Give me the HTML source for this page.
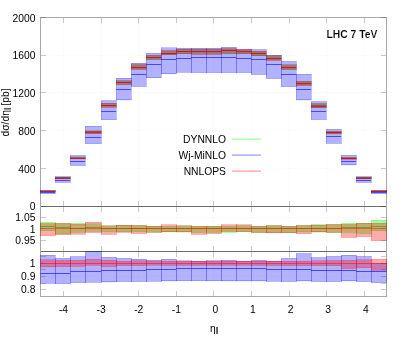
<!DOCTYPE html>
<html><head><meta charset="utf-8"><title>plot</title>
<style>
html,body{margin:0;padding:0;background:#fff;}
svg{display:block;font-family:"Liberation Sans",sans-serif;fill:#000;will-change:transform;}
</style></head><body>
<svg width="407" height="344" viewBox="0 0 407 344">
<rect x="0" y="0" width="407" height="344" fill="#fff"/>
<line x1="63.5" y1="17.3" x2="63.5" y2="296.45" stroke="#fbfbfb" stroke-width="1"/>
<line x1="101.5" y1="17.3" x2="101.5" y2="296.45" stroke="#fbfbfb" stroke-width="1"/>
<line x1="138.5" y1="17.3" x2="138.5" y2="296.45" stroke="#fbfbfb" stroke-width="1"/>
<line x1="176.5" y1="17.3" x2="176.5" y2="296.45" stroke="#fbfbfb" stroke-width="1"/>
<line x1="213.5" y1="17.3" x2="213.5" y2="296.45" stroke="#fbfbfb" stroke-width="1"/>
<line x1="251.5" y1="17.3" x2="251.5" y2="296.45" stroke="#fbfbfb" stroke-width="1"/>
<line x1="289.5" y1="17.3" x2="289.5" y2="296.45" stroke="#fbfbfb" stroke-width="1"/>
<line x1="326.5" y1="17.3" x2="326.5" y2="296.45" stroke="#fbfbfb" stroke-width="1"/>
<line x1="364.5" y1="17.3" x2="364.5" y2="296.45" stroke="#fbfbfb" stroke-width="1"/>
<line x1="40.45" y1="168.5" x2="386.55" y2="168.5" stroke="#fbfbfb" stroke-width="1"/>
<line x1="40.45" y1="130.5" x2="386.55" y2="130.5" stroke="#fbfbfb" stroke-width="1"/>
<line x1="40.45" y1="92.5" x2="386.55" y2="92.5" stroke="#fbfbfb" stroke-width="1"/>
<line x1="40.45" y1="55.5" x2="386.55" y2="55.5" stroke="#fbfbfb" stroke-width="1"/>
<line x1="40.45" y1="217.5" x2="386.55" y2="217.5" stroke="#fbfbfb" stroke-width="1"/>
<line x1="40.45" y1="228.5" x2="386.55" y2="228.5" stroke="#fbfbfb" stroke-width="1"/>
<line x1="40.45" y1="240.5" x2="386.55" y2="240.5" stroke="#fbfbfb" stroke-width="1"/>
<line x1="40.45" y1="263.5" x2="386.55" y2="263.5" stroke="#fbfbfb" stroke-width="1"/>
<line x1="40.45" y1="276.5" x2="386.55" y2="276.5" stroke="#fbfbfb" stroke-width="1"/>
<line x1="40.45" y1="289.5" x2="386.55" y2="289.5" stroke="#fbfbfb" stroke-width="1"/>
<path d="M41.0 206.5h5M386.0 206.5h-5" stroke="#000" stroke-opacity="0.2" stroke-width="1" fill="none"/>
<path d="M41.0 168.5h5M386.0 168.5h-5" stroke="#000" stroke-opacity="0.2" stroke-width="1" fill="none"/>
<path d="M41.0 130.5h5M386.0 130.5h-5" stroke="#000" stroke-opacity="0.2" stroke-width="1" fill="none"/>
<path d="M41.0 92.5h5M386.0 92.5h-5" stroke="#000" stroke-opacity="0.2" stroke-width="1" fill="none"/>
<path d="M41.0 55.5h5M386.0 55.5h-5" stroke="#000" stroke-opacity="0.2" stroke-width="1" fill="none"/>
<path d="M41.0 17.5h5M386.0 17.5h-5" stroke="#000" stroke-opacity="0.2" stroke-width="1" fill="none"/>
<path d="M41.0 217.5h5M386.0 217.5h-5" stroke="#000" stroke-opacity="0.2" stroke-width="1" fill="none"/>
<path d="M41.0 228.5h5M386.0 228.5h-5" stroke="#000" stroke-opacity="0.2" stroke-width="1" fill="none"/>
<path d="M41.0 240.5h5M386.0 240.5h-5" stroke="#000" stroke-opacity="0.2" stroke-width="1" fill="none"/>
<path d="M41.0 256.5h5M386.0 256.5h-5" stroke="#000" stroke-opacity="0.2" stroke-width="1" fill="none"/>
<path d="M41.0 263.5h5M386.0 263.5h-5" stroke="#000" stroke-opacity="0.2" stroke-width="1" fill="none"/>
<path d="M41.0 269.5h5M386.0 269.5h-5" stroke="#000" stroke-opacity="0.2" stroke-width="1" fill="none"/>
<path d="M41.0 276.5h5M386.0 276.5h-5" stroke="#000" stroke-opacity="0.2" stroke-width="1" fill="none"/>
<path d="M41.0 283.5h5M386.0 283.5h-5" stroke="#000" stroke-opacity="0.2" stroke-width="1" fill="none"/>
<path d="M41.0 289.5h5M386.0 289.5h-5" stroke="#000" stroke-opacity="0.2" stroke-width="1" fill="none"/>
<path d="M63.5 18.0v5M63.5 206.0v-5" stroke="#000" stroke-opacity="0.2" stroke-width="1" fill="none"/>
<path d="M63.5 207.0v5M63.5 251.0v-5" stroke="#000" stroke-opacity="0.2" stroke-width="1" fill="none"/>
<path d="M63.5 252.0v5M63.5 296.0v-5" stroke="#000" stroke-opacity="0.2" stroke-width="1" fill="none"/>
<path d="M101.5 18.0v5M101.5 206.0v-5" stroke="#000" stroke-opacity="0.2" stroke-width="1" fill="none"/>
<path d="M101.5 207.0v5M101.5 251.0v-5" stroke="#000" stroke-opacity="0.2" stroke-width="1" fill="none"/>
<path d="M101.5 252.0v5M101.5 296.0v-5" stroke="#000" stroke-opacity="0.2" stroke-width="1" fill="none"/>
<path d="M138.5 18.0v5M138.5 206.0v-5" stroke="#000" stroke-opacity="0.2" stroke-width="1" fill="none"/>
<path d="M138.5 207.0v5M138.5 251.0v-5" stroke="#000" stroke-opacity="0.2" stroke-width="1" fill="none"/>
<path d="M138.5 252.0v5M138.5 296.0v-5" stroke="#000" stroke-opacity="0.2" stroke-width="1" fill="none"/>
<path d="M176.5 18.0v5M176.5 206.0v-5" stroke="#000" stroke-opacity="0.2" stroke-width="1" fill="none"/>
<path d="M176.5 207.0v5M176.5 251.0v-5" stroke="#000" stroke-opacity="0.2" stroke-width="1" fill="none"/>
<path d="M176.5 252.0v5M176.5 296.0v-5" stroke="#000" stroke-opacity="0.2" stroke-width="1" fill="none"/>
<path d="M213.5 18.0v5M213.5 206.0v-5" stroke="#000" stroke-opacity="0.2" stroke-width="1" fill="none"/>
<path d="M213.5 207.0v5M213.5 251.0v-5" stroke="#000" stroke-opacity="0.2" stroke-width="1" fill="none"/>
<path d="M213.5 252.0v5M213.5 296.0v-5" stroke="#000" stroke-opacity="0.2" stroke-width="1" fill="none"/>
<path d="M251.5 18.0v5M251.5 206.0v-5" stroke="#000" stroke-opacity="0.2" stroke-width="1" fill="none"/>
<path d="M251.5 207.0v5M251.5 251.0v-5" stroke="#000" stroke-opacity="0.2" stroke-width="1" fill="none"/>
<path d="M251.5 252.0v5M251.5 296.0v-5" stroke="#000" stroke-opacity="0.2" stroke-width="1" fill="none"/>
<path d="M289.5 18.0v5M289.5 206.0v-5" stroke="#000" stroke-opacity="0.2" stroke-width="1" fill="none"/>
<path d="M289.5 207.0v5M289.5 251.0v-5" stroke="#000" stroke-opacity="0.2" stroke-width="1" fill="none"/>
<path d="M289.5 252.0v5M289.5 296.0v-5" stroke="#000" stroke-opacity="0.2" stroke-width="1" fill="none"/>
<path d="M326.5 18.0v5M326.5 206.0v-5" stroke="#000" stroke-opacity="0.2" stroke-width="1" fill="none"/>
<path d="M326.5 207.0v5M326.5 251.0v-5" stroke="#000" stroke-opacity="0.2" stroke-width="1" fill="none"/>
<path d="M326.5 252.0v5M326.5 296.0v-5" stroke="#000" stroke-opacity="0.2" stroke-width="1" fill="none"/>
<path d="M364.5 18.0v5M364.5 206.0v-5" stroke="#000" stroke-opacity="0.2" stroke-width="1" fill="none"/>
<path d="M364.5 207.0v5M364.5 251.0v-5" stroke="#000" stroke-opacity="0.2" stroke-width="1" fill="none"/>
<path d="M364.5 252.0v5M364.5 296.0v-5" stroke="#000" stroke-opacity="0.2" stroke-width="1" fill="none"/>
<rect x="40.50" y="190.76" width="14.65" height="0.87" fill="#00ff00" fill-opacity="0.36"/>
<path d="M40.50 190.50H55.50M40.50 191.50H55.50M40.50 190.00V192.00M55.50 190.00V192.00" fill="none" stroke="#00ff00" stroke-opacity="0.2" stroke-width="1"/>
<line x1="40.50" y1="191.50" x2="55.15" y2="191.50" stroke="#00c000" stroke-width="1" stroke-opacity="0.6"/>
<rect x="55.15" y="177.10" width="15.00" height="1.81" fill="#00ff00" fill-opacity="0.36"/>
<path d="M55.50 177.50H70.50M55.50 178.50H70.50M55.50 177.00V179.00M70.50 177.00V179.00" fill="none" stroke="#00ff00" stroke-opacity="0.2" stroke-width="1"/>
<line x1="55.15" y1="177.50" x2="70.15" y2="177.50" stroke="#00c000" stroke-width="1" stroke-opacity="0.6"/>
<rect x="70.15" y="156.84" width="15.00" height="1.84" fill="#00ff00" fill-opacity="0.36"/>
<path d="M70.50 156.50H85.50M70.50 158.50H85.50M70.50 156.00V159.00M85.50 156.00V159.00" fill="none" stroke="#00ff00" stroke-opacity="0.2" stroke-width="1"/>
<line x1="70.15" y1="158.50" x2="85.15" y2="158.50" stroke="#00c000" stroke-width="1" stroke-opacity="0.6"/>
<rect x="85.15" y="131.36" width="16.00" height="2.15" fill="#00ff00" fill-opacity="0.36"/>
<path d="M85.50 131.50H101.50M85.50 133.50H101.50M85.50 131.00V134.00M101.50 131.00V134.00" fill="none" stroke="#00ff00" stroke-opacity="0.2" stroke-width="1"/>
<line x1="85.15" y1="131.50" x2="101.15" y2="131.50" stroke="#00c000" stroke-width="1" stroke-opacity="0.6"/>
<rect x="101.15" y="103.10" width="15.00" height="3.54" fill="#00ff00" fill-opacity="0.36"/>
<path d="M101.50 103.50H116.50M101.50 106.50H116.50M101.50 103.00V107.00M116.50 103.00V107.00" fill="none" stroke="#00ff00" stroke-opacity="0.2" stroke-width="1"/>
<line x1="101.15" y1="105.50" x2="116.15" y2="105.50" stroke="#00c000" stroke-width="1" stroke-opacity="0.6"/>
<rect x="116.15" y="80.70" width="15.00" height="3.89" fill="#00ff00" fill-opacity="0.36"/>
<path d="M116.50 80.50H131.50M116.50 84.50H131.50M116.50 80.00V85.00M131.50 80.00V85.00" fill="none" stroke="#00ff00" stroke-opacity="0.2" stroke-width="1"/>
<line x1="116.15" y1="82.50" x2="131.15" y2="82.50" stroke="#00c000" stroke-width="1" stroke-opacity="0.6"/>
<rect x="131.15" y="64.70" width="15.00" height="4.15" fill="#00ff00" fill-opacity="0.36"/>
<path d="M131.50 64.50H146.50M131.50 68.50H146.50M131.50 64.00V69.00M146.50 64.00V69.00" fill="none" stroke="#00ff00" stroke-opacity="0.2" stroke-width="1"/>
<line x1="131.15" y1="67.50" x2="146.15" y2="67.50" stroke="#00c000" stroke-width="1" stroke-opacity="0.6"/>
<rect x="146.15" y="55.20" width="15.00" height="4.40" fill="#00ff00" fill-opacity="0.36"/>
<path d="M146.50 55.50H161.50M146.50 59.50H161.50M146.50 55.00V60.00M161.50 55.00V60.00" fill="none" stroke="#00ff00" stroke-opacity="0.2" stroke-width="1"/>
<line x1="146.15" y1="57.50" x2="161.15" y2="57.50" stroke="#00c000" stroke-width="1" stroke-opacity="0.6"/>
<rect x="161.15" y="51.05" width="15.00" height="3.95" fill="#00ff00" fill-opacity="0.36"/>
<path d="M161.50 51.50H176.50M161.50 54.50H176.50M161.50 51.00V55.00M176.50 51.00V55.00" fill="none" stroke="#00ff00" stroke-opacity="0.2" stroke-width="1"/>
<line x1="161.15" y1="53.50" x2="176.15" y2="53.50" stroke="#00c000" stroke-width="1" stroke-opacity="0.6"/>
<rect x="176.15" y="49.10" width="15.00" height="4.90" fill="#00ff00" fill-opacity="0.36"/>
<path d="M176.50 49.50H191.50M176.50 53.50H191.50M176.50 49.00V54.00M191.50 49.00V54.00" fill="none" stroke="#00ff00" stroke-opacity="0.2" stroke-width="1"/>
<line x1="176.15" y1="51.50" x2="191.15" y2="51.50" stroke="#00c000" stroke-width="1" stroke-opacity="0.6"/>
<rect x="191.15" y="49.20" width="15.00" height="4.19" fill="#00ff00" fill-opacity="0.36"/>
<path d="M191.50 49.50H206.50M191.50 53.50H206.50M191.50 49.00V54.00M206.50 49.00V54.00" fill="none" stroke="#00ff00" stroke-opacity="0.2" stroke-width="1"/>
<line x1="191.15" y1="51.50" x2="206.15" y2="51.50" stroke="#00c000" stroke-width="1" stroke-opacity="0.6"/>
<rect x="206.15" y="49.20" width="15.00" height="4.61" fill="#00ff00" fill-opacity="0.36"/>
<path d="M206.50 49.50H221.50M206.50 53.50H221.50M206.50 49.00V54.00M221.50 49.00V54.00" fill="none" stroke="#00ff00" stroke-opacity="0.2" stroke-width="1"/>
<line x1="206.15" y1="51.50" x2="221.15" y2="51.50" stroke="#00c000" stroke-width="1" stroke-opacity="0.6"/>
<rect x="221.15" y="49.27" width="15.00" height="4.82" fill="#00ff00" fill-opacity="0.36"/>
<path d="M221.50 49.50H236.50M221.50 53.50H236.50M221.50 49.00V54.00M236.50 49.00V54.00" fill="none" stroke="#00ff00" stroke-opacity="0.2" stroke-width="1"/>
<line x1="221.15" y1="50.50" x2="236.15" y2="50.50" stroke="#00c000" stroke-width="1" stroke-opacity="0.6"/>
<rect x="236.15" y="50.19" width="15.00" height="3.81" fill="#00ff00" fill-opacity="0.36"/>
<path d="M236.50 50.50H251.50M236.50 53.50H251.50M236.50 50.00V54.00M251.50 50.00V54.00" fill="none" stroke="#00ff00" stroke-opacity="0.2" stroke-width="1"/>
<line x1="236.15" y1="51.50" x2="251.15" y2="51.50" stroke="#00c000" stroke-width="1" stroke-opacity="0.6"/>
<rect x="251.15" y="51.00" width="15.00" height="5.00" fill="#00ff00" fill-opacity="0.36"/>
<path d="M251.50 51.50H266.50M251.50 55.50H266.50M251.50 51.00V56.00M266.50 51.00V56.00" fill="none" stroke="#00ff00" stroke-opacity="0.2" stroke-width="1"/>
<line x1="251.15" y1="53.50" x2="266.15" y2="53.50" stroke="#00c000" stroke-width="1" stroke-opacity="0.6"/>
<rect x="266.15" y="55.60" width="15.00" height="4.64" fill="#00ff00" fill-opacity="0.36"/>
<path d="M266.50 55.50H281.50M266.50 59.50H281.50M266.50 55.00V60.00M281.50 55.00V60.00" fill="none" stroke="#00ff00" stroke-opacity="0.2" stroke-width="1"/>
<line x1="266.15" y1="58.50" x2="281.15" y2="58.50" stroke="#00c000" stroke-width="1" stroke-opacity="0.6"/>
<rect x="281.15" y="64.90" width="15.00" height="4.70" fill="#00ff00" fill-opacity="0.36"/>
<path d="M281.50 64.50H296.50M281.50 69.50H296.50M281.50 64.00V70.00M296.50 64.00V70.00" fill="none" stroke="#00ff00" stroke-opacity="0.2" stroke-width="1"/>
<line x1="281.15" y1="67.50" x2="296.15" y2="67.50" stroke="#00c000" stroke-width="1" stroke-opacity="0.6"/>
<rect x="296.15" y="81.10" width="15.00" height="4.08" fill="#00ff00" fill-opacity="0.36"/>
<path d="M296.50 81.50H311.50M296.50 84.50H311.50M296.50 81.00V85.00M311.50 81.00V85.00" fill="none" stroke="#00ff00" stroke-opacity="0.2" stroke-width="1"/>
<line x1="296.15" y1="83.50" x2="311.15" y2="83.50" stroke="#00c000" stroke-width="1" stroke-opacity="0.6"/>
<rect x="311.15" y="103.49" width="15.00" height="4.51" fill="#00ff00" fill-opacity="0.36"/>
<path d="M311.50 103.50H326.50M311.50 107.50H326.50M311.50 103.00V108.00M326.50 103.00V108.00" fill="none" stroke="#00ff00" stroke-opacity="0.2" stroke-width="1"/>
<line x1="311.15" y1="105.50" x2="326.15" y2="105.50" stroke="#00c000" stroke-width="1" stroke-opacity="0.6"/>
<rect x="326.15" y="131.10" width="15.00" height="3.00" fill="#00ff00" fill-opacity="0.36"/>
<path d="M326.50 131.50H341.50M326.50 133.50H341.50M326.50 131.00V134.00M341.50 131.00V134.00" fill="none" stroke="#00ff00" stroke-opacity="0.2" stroke-width="1"/>
<line x1="326.15" y1="132.50" x2="341.15" y2="132.50" stroke="#00c000" stroke-width="1" stroke-opacity="0.6"/>
<rect x="341.15" y="157.04" width="15.00" height="1.41" fill="#00ff00" fill-opacity="0.36"/>
<path d="M341.50 157.50H356.50M341.50 158.50H356.50M341.50 157.00V159.00M356.50 157.00V159.00" fill="none" stroke="#00ff00" stroke-opacity="0.2" stroke-width="1"/>
<line x1="341.15" y1="158.50" x2="356.15" y2="158.50" stroke="#00c000" stroke-width="1" stroke-opacity="0.6"/>
<rect x="356.15" y="177.10" width="15.00" height="1.54" fill="#00ff00" fill-opacity="0.36"/>
<path d="M356.50 177.50H371.50M356.50 178.50H371.50M356.50 177.00V179.00M371.50 177.00V179.00" fill="none" stroke="#00ff00" stroke-opacity="0.2" stroke-width="1"/>
<line x1="356.15" y1="177.50" x2="371.15" y2="177.50" stroke="#00c000" stroke-width="1" stroke-opacity="0.6"/>
<rect x="371.15" y="190.59" width="15.35" height="0.78" fill="#00ff00" fill-opacity="0.36"/>
<path d="M371.50 190.50H386.50M371.50 191.50H386.50M371.50 190.00V192.00M386.50 190.00V192.00" fill="none" stroke="#00ff00" stroke-opacity="0.2" stroke-width="1"/>
<line x1="371.15" y1="191.50" x2="386.50" y2="191.50" stroke="#00c000" stroke-width="1" stroke-opacity="0.6"/>
<rect x="40.50" y="190.10" width="14.65" height="3.60" fill="#0000ff" fill-opacity="0.3"/>
<path d="M40.50 190.50H55.50M40.50 193.50H55.50M40.50 190.00V194.00M55.50 190.00V194.00" fill="none" stroke="#0000ff" stroke-opacity="0.2" stroke-width="1"/>
<line x1="40.50" y1="192.50" x2="55.15" y2="192.50" stroke="#0000ff" stroke-width="1" stroke-opacity="0.6"/>
<rect x="55.15" y="176.50" width="15.00" height="5.90" fill="#0000ff" fill-opacity="0.3"/>
<path d="M55.50 176.50H70.50M55.50 182.50H70.50M55.50 176.00V183.00M70.50 176.00V183.00" fill="none" stroke="#0000ff" stroke-opacity="0.2" stroke-width="1"/>
<line x1="55.15" y1="180.50" x2="70.15" y2="180.50" stroke="#0000ff" stroke-width="1" stroke-opacity="0.6"/>
<rect x="70.15" y="155.50" width="15.00" height="10.00" fill="#0000ff" fill-opacity="0.3"/>
<path d="M70.50 155.50H85.50M70.50 165.50H85.50M70.50 155.00V166.00M85.50 155.00V166.00" fill="none" stroke="#0000ff" stroke-opacity="0.2" stroke-width="1"/>
<line x1="70.15" y1="161.50" x2="85.15" y2="161.50" stroke="#0000ff" stroke-width="1" stroke-opacity="0.6"/>
<rect x="85.15" y="126.10" width="16.00" height="17.60" fill="#0000ff" fill-opacity="0.3"/>
<path d="M85.50 126.50H101.50M85.50 143.50H101.50M85.50 126.00V144.00M101.50 126.00V144.00" fill="none" stroke="#0000ff" stroke-opacity="0.2" stroke-width="1"/>
<line x1="85.15" y1="137.50" x2="101.15" y2="137.50" stroke="#0000ff" stroke-width="1" stroke-opacity="0.6"/>
<rect x="101.15" y="100.60" width="15.00" height="19.20" fill="#0000ff" fill-opacity="0.3"/>
<path d="M101.50 100.50H116.50M101.50 119.50H116.50M101.50 100.00V120.00M116.50 100.00V120.00" fill="none" stroke="#0000ff" stroke-opacity="0.2" stroke-width="1"/>
<line x1="101.15" y1="111.50" x2="116.15" y2="111.50" stroke="#0000ff" stroke-width="1" stroke-opacity="0.6"/>
<rect x="116.15" y="78.00" width="15.00" height="22.20" fill="#0000ff" fill-opacity="0.3"/>
<path d="M116.50 78.50H131.50M116.50 99.50H131.50M116.50 78.00V100.00M131.50 78.00V100.00" fill="none" stroke="#0000ff" stroke-opacity="0.2" stroke-width="1"/>
<line x1="116.15" y1="89.50" x2="131.15" y2="89.50" stroke="#0000ff" stroke-width="1" stroke-opacity="0.6"/>
<rect x="131.15" y="63.00" width="15.00" height="23.50" fill="#0000ff" fill-opacity="0.3"/>
<path d="M131.50 63.50H146.50M131.50 86.50H146.50M131.50 63.00V87.00M146.50 63.00V87.00" fill="none" stroke="#0000ff" stroke-opacity="0.2" stroke-width="1"/>
<line x1="131.15" y1="74.50" x2="146.15" y2="74.50" stroke="#0000ff" stroke-width="1" stroke-opacity="0.6"/>
<rect x="146.15" y="53.20" width="15.00" height="24.80" fill="#0000ff" fill-opacity="0.3"/>
<path d="M146.50 53.50H161.50M146.50 77.50H161.50M146.50 53.00V78.00M161.50 53.00V78.00" fill="none" stroke="#0000ff" stroke-opacity="0.2" stroke-width="1"/>
<line x1="146.15" y1="64.50" x2="161.15" y2="64.50" stroke="#0000ff" stroke-width="1" stroke-opacity="0.6"/>
<rect x="161.15" y="47.90" width="15.00" height="26.20" fill="#0000ff" fill-opacity="0.3"/>
<path d="M161.50 47.50H176.50M161.50 73.50H176.50M161.50 47.00V74.00M176.50 47.00V74.00" fill="none" stroke="#0000ff" stroke-opacity="0.2" stroke-width="1"/>
<line x1="161.15" y1="59.50" x2="176.15" y2="59.50" stroke="#0000ff" stroke-width="1" stroke-opacity="0.6"/>
<rect x="176.15" y="48.10" width="15.00" height="24.20" fill="#0000ff" fill-opacity="0.3"/>
<path d="M176.50 48.50H191.50M176.50 72.50H191.50M176.50 48.00V73.00M191.50 48.00V73.00" fill="none" stroke="#0000ff" stroke-opacity="0.2" stroke-width="1"/>
<line x1="176.15" y1="58.50" x2="191.15" y2="58.50" stroke="#0000ff" stroke-width="1" stroke-opacity="0.6"/>
<rect x="191.15" y="48.00" width="15.00" height="24.60" fill="#0000ff" fill-opacity="0.3"/>
<path d="M191.50 48.50H206.50M191.50 72.50H206.50M191.50 48.00V73.00M206.50 48.00V73.00" fill="none" stroke="#0000ff" stroke-opacity="0.2" stroke-width="1"/>
<line x1="191.15" y1="57.50" x2="206.15" y2="57.50" stroke="#0000ff" stroke-width="1" stroke-opacity="0.6"/>
<rect x="206.15" y="48.00" width="15.00" height="24.60" fill="#0000ff" fill-opacity="0.3"/>
<path d="M206.50 48.50H221.50M206.50 72.50H221.50M206.50 48.00V73.00M221.50 48.00V73.00" fill="none" stroke="#0000ff" stroke-opacity="0.2" stroke-width="1"/>
<line x1="206.15" y1="57.50" x2="221.15" y2="57.50" stroke="#0000ff" stroke-width="1" stroke-opacity="0.6"/>
<rect x="221.15" y="47.10" width="15.00" height="25.50" fill="#0000ff" fill-opacity="0.3"/>
<path d="M221.50 47.50H236.50M221.50 72.50H236.50M221.50 47.00V73.00M236.50 47.00V73.00" fill="none" stroke="#0000ff" stroke-opacity="0.2" stroke-width="1"/>
<line x1="221.15" y1="57.50" x2="236.15" y2="57.50" stroke="#0000ff" stroke-width="1" stroke-opacity="0.6"/>
<rect x="236.15" y="49.00" width="15.00" height="23.60" fill="#0000ff" fill-opacity="0.3"/>
<path d="M236.50 49.50H251.50M236.50 72.50H251.50M236.50 49.00V73.00M251.50 49.00V73.00" fill="none" stroke="#0000ff" stroke-opacity="0.2" stroke-width="1"/>
<line x1="236.15" y1="58.50" x2="251.15" y2="58.50" stroke="#0000ff" stroke-width="1" stroke-opacity="0.6"/>
<rect x="251.15" y="49.50" width="15.00" height="25.00" fill="#0000ff" fill-opacity="0.3"/>
<path d="M251.50 49.50H266.50M251.50 74.50H266.50M251.50 49.00V75.00M266.50 49.00V75.00" fill="none" stroke="#0000ff" stroke-opacity="0.2" stroke-width="1"/>
<line x1="251.15" y1="59.50" x2="266.15" y2="59.50" stroke="#0000ff" stroke-width="1" stroke-opacity="0.6"/>
<rect x="266.15" y="55.20" width="15.00" height="23.40" fill="#0000ff" fill-opacity="0.3"/>
<path d="M266.50 55.50H281.50M266.50 78.50H281.50M266.50 55.00V79.00M281.50 55.00V79.00" fill="none" stroke="#0000ff" stroke-opacity="0.2" stroke-width="1"/>
<line x1="266.15" y1="64.50" x2="281.15" y2="64.50" stroke="#0000ff" stroke-width="1" stroke-opacity="0.6"/>
<rect x="281.15" y="61.40" width="15.00" height="25.30" fill="#0000ff" fill-opacity="0.3"/>
<path d="M281.50 61.50H296.50M281.50 86.50H296.50M281.50 61.00V87.00M296.50 61.00V87.00" fill="none" stroke="#0000ff" stroke-opacity="0.2" stroke-width="1"/>
<line x1="281.15" y1="74.50" x2="296.15" y2="74.50" stroke="#0000ff" stroke-width="1" stroke-opacity="0.6"/>
<rect x="296.15" y="74.10" width="15.00" height="26.10" fill="#0000ff" fill-opacity="0.3"/>
<path d="M296.50 74.50H311.50M296.50 99.50H311.50M296.50 74.00V100.00M311.50 74.00V100.00" fill="none" stroke="#0000ff" stroke-opacity="0.2" stroke-width="1"/>
<line x1="296.15" y1="89.50" x2="311.15" y2="89.50" stroke="#0000ff" stroke-width="1" stroke-opacity="0.6"/>
<rect x="311.15" y="101.50" width="15.00" height="18.10" fill="#0000ff" fill-opacity="0.3"/>
<path d="M311.50 101.50H326.50M311.50 119.50H326.50M311.50 101.00V120.00M326.50 101.00V120.00" fill="none" stroke="#0000ff" stroke-opacity="0.2" stroke-width="1"/>
<line x1="311.15" y1="111.50" x2="326.15" y2="111.50" stroke="#0000ff" stroke-width="1" stroke-opacity="0.6"/>
<rect x="326.15" y="129.20" width="15.00" height="14.20" fill="#0000ff" fill-opacity="0.3"/>
<path d="M326.50 129.50H341.50M326.50 143.50H341.50M326.50 129.00V144.00M341.50 129.00V144.00" fill="none" stroke="#0000ff" stroke-opacity="0.2" stroke-width="1"/>
<line x1="326.15" y1="136.50" x2="341.15" y2="136.50" stroke="#0000ff" stroke-width="1" stroke-opacity="0.6"/>
<rect x="341.15" y="155.20" width="15.00" height="10.00" fill="#0000ff" fill-opacity="0.3"/>
<path d="M341.50 155.50H356.50M341.50 164.50H356.50M341.50 155.00V165.00M356.50 155.00V165.00" fill="none" stroke="#0000ff" stroke-opacity="0.2" stroke-width="1"/>
<line x1="341.15" y1="161.50" x2="356.15" y2="161.50" stroke="#0000ff" stroke-width="1" stroke-opacity="0.6"/>
<rect x="356.15" y="176.50" width="15.00" height="5.90" fill="#0000ff" fill-opacity="0.3"/>
<path d="M356.50 176.50H371.50M356.50 182.50H371.50M356.50 176.00V183.00M371.50 176.00V183.00" fill="none" stroke="#0000ff" stroke-opacity="0.2" stroke-width="1"/>
<line x1="356.15" y1="180.50" x2="371.15" y2="180.50" stroke="#0000ff" stroke-width="1" stroke-opacity="0.6"/>
<rect x="371.15" y="190.30" width="15.35" height="3.40" fill="#0000ff" fill-opacity="0.3"/>
<path d="M371.50 190.50H386.50M371.50 193.50H386.50M371.50 190.00V194.00M386.50 190.00V194.00" fill="none" stroke="#0000ff" stroke-opacity="0.2" stroke-width="1"/>
<line x1="371.15" y1="192.50" x2="386.50" y2="192.50" stroke="#0000ff" stroke-width="1" stroke-opacity="0.6"/>
<rect x="40.50" y="190.85" width="14.65" height="1.10" fill="#ff0000" fill-opacity="0.33"/>
<path d="M40.50 190.50H55.50M40.50 191.50H55.50M40.50 190.00V192.00M55.50 190.00V192.00" fill="none" stroke="#ff0000" stroke-opacity="0.2" stroke-width="1"/>
<line x1="40.50" y1="191.50" x2="55.15" y2="191.50" stroke="#e00000" stroke-width="1" stroke-opacity="0.68"/>
<rect x="55.15" y="177.10" width="15.00" height="1.90" fill="#ff0000" fill-opacity="0.33"/>
<path d="M55.50 177.50H70.50M55.50 178.50H70.50M55.50 177.00V179.00M70.50 177.00V179.00" fill="none" stroke="#ff0000" stroke-opacity="0.2" stroke-width="1"/>
<line x1="55.15" y1="178.50" x2="70.15" y2="178.50" stroke="#e00000" stroke-width="1" stroke-opacity="0.68"/>
<rect x="70.15" y="157.05" width="15.00" height="2.05" fill="#ff0000" fill-opacity="0.33"/>
<path d="M70.50 157.50H85.50M70.50 158.50H85.50M70.50 157.00V159.00M85.50 157.00V159.00" fill="none" stroke="#ff0000" stroke-opacity="0.2" stroke-width="1"/>
<line x1="70.15" y1="158.50" x2="85.15" y2="158.50" stroke="#e00000" stroke-width="1" stroke-opacity="0.68"/>
<rect x="85.15" y="130.80" width="16.00" height="3.10" fill="#ff0000" fill-opacity="0.33"/>
<path d="M85.50 130.50H101.50M85.50 133.50H101.50M85.50 130.00V134.00M101.50 130.00V134.00" fill="none" stroke="#ff0000" stroke-opacity="0.2" stroke-width="1"/>
<line x1="85.15" y1="132.50" x2="101.15" y2="132.50" stroke="#e00000" stroke-width="1" stroke-opacity="0.68"/>
<rect x="101.15" y="103.10" width="15.00" height="4.70" fill="#ff0000" fill-opacity="0.33"/>
<path d="M101.50 103.50H116.50M101.50 107.50H116.50M101.50 103.00V108.00M116.50 103.00V108.00" fill="none" stroke="#ff0000" stroke-opacity="0.2" stroke-width="1"/>
<line x1="101.15" y1="105.50" x2="116.15" y2="105.50" stroke="#e00000" stroke-width="1" stroke-opacity="0.68"/>
<rect x="116.15" y="80.70" width="15.00" height="4.00" fill="#ff0000" fill-opacity="0.33"/>
<path d="M116.50 80.50H131.50M116.50 84.50H131.50M116.50 80.00V85.00M131.50 80.00V85.00" fill="none" stroke="#ff0000" stroke-opacity="0.2" stroke-width="1"/>
<line x1="116.15" y1="82.50" x2="131.15" y2="82.50" stroke="#e00000" stroke-width="1" stroke-opacity="0.68"/>
<rect x="131.15" y="64.70" width="15.00" height="5.20" fill="#ff0000" fill-opacity="0.33"/>
<path d="M131.50 64.50H146.50M131.50 69.50H146.50M131.50 64.00V70.00M146.50 64.00V70.00" fill="none" stroke="#ff0000" stroke-opacity="0.2" stroke-width="1"/>
<line x1="131.15" y1="67.50" x2="146.15" y2="67.50" stroke="#e00000" stroke-width="1" stroke-opacity="0.68"/>
<rect x="146.15" y="55.20" width="15.00" height="4.40" fill="#ff0000" fill-opacity="0.33"/>
<path d="M146.50 55.50H161.50M146.50 59.50H161.50M146.50 55.00V60.00M161.50 55.00V60.00" fill="none" stroke="#ff0000" stroke-opacity="0.2" stroke-width="1"/>
<line x1="146.15" y1="57.50" x2="161.15" y2="57.50" stroke="#e00000" stroke-width="1" stroke-opacity="0.68"/>
<rect x="161.15" y="50.10" width="15.00" height="4.90" fill="#ff0000" fill-opacity="0.33"/>
<path d="M161.50 50.50H176.50M161.50 54.50H176.50M161.50 50.00V55.00M176.50 50.00V55.00" fill="none" stroke="#ff0000" stroke-opacity="0.2" stroke-width="1"/>
<line x1="161.15" y1="53.50" x2="176.15" y2="53.50" stroke="#e00000" stroke-width="1" stroke-opacity="0.68"/>
<rect x="176.15" y="49.10" width="15.00" height="4.90" fill="#ff0000" fill-opacity="0.33"/>
<path d="M176.50 49.50H191.50M176.50 53.50H191.50M176.50 49.00V54.00M191.50 49.00V54.00" fill="none" stroke="#ff0000" stroke-opacity="0.2" stroke-width="1"/>
<line x1="176.15" y1="51.50" x2="191.15" y2="51.50" stroke="#e00000" stroke-width="1" stroke-opacity="0.68"/>
<rect x="191.15" y="49.20" width="15.00" height="5.50" fill="#ff0000" fill-opacity="0.33"/>
<path d="M191.50 49.50H206.50M191.50 54.50H206.50M191.50 49.00V55.00M206.50 49.00V55.00" fill="none" stroke="#ff0000" stroke-opacity="0.2" stroke-width="1"/>
<line x1="191.15" y1="51.50" x2="206.15" y2="51.50" stroke="#e00000" stroke-width="1" stroke-opacity="0.68"/>
<rect x="206.15" y="49.20" width="15.00" height="5.50" fill="#ff0000" fill-opacity="0.33"/>
<path d="M206.50 49.50H221.50M206.50 54.50H221.50M206.50 49.00V55.00M221.50 49.00V55.00" fill="none" stroke="#ff0000" stroke-opacity="0.2" stroke-width="1"/>
<line x1="206.15" y1="51.50" x2="221.15" y2="51.50" stroke="#e00000" stroke-width="1" stroke-opacity="0.68"/>
<rect x="221.15" y="48.30" width="15.00" height="5.10" fill="#ff0000" fill-opacity="0.33"/>
<path d="M221.50 48.50H236.50M221.50 53.50H236.50M221.50 48.00V54.00M236.50 48.00V54.00" fill="none" stroke="#ff0000" stroke-opacity="0.2" stroke-width="1"/>
<line x1="221.15" y1="50.50" x2="236.15" y2="50.50" stroke="#e00000" stroke-width="1" stroke-opacity="0.68"/>
<rect x="236.15" y="49.50" width="15.00" height="4.50" fill="#ff0000" fill-opacity="0.33"/>
<path d="M236.50 49.50H251.50M236.50 53.50H251.50M236.50 49.00V54.00M251.50 49.00V54.00" fill="none" stroke="#ff0000" stroke-opacity="0.2" stroke-width="1"/>
<line x1="236.15" y1="51.50" x2="251.15" y2="51.50" stroke="#e00000" stroke-width="1" stroke-opacity="0.68"/>
<rect x="251.15" y="51.00" width="15.00" height="5.00" fill="#ff0000" fill-opacity="0.33"/>
<path d="M251.50 51.50H266.50M251.50 55.50H266.50M251.50 51.00V56.00M266.50 51.00V56.00" fill="none" stroke="#ff0000" stroke-opacity="0.2" stroke-width="1"/>
<line x1="251.15" y1="53.50" x2="266.15" y2="53.50" stroke="#e00000" stroke-width="1" stroke-opacity="0.68"/>
<rect x="266.15" y="55.60" width="15.00" height="5.10" fill="#ff0000" fill-opacity="0.33"/>
<path d="M266.50 55.50H281.50M266.50 60.50H281.50M266.50 55.00V61.00M281.50 55.00V61.00" fill="none" stroke="#ff0000" stroke-opacity="0.2" stroke-width="1"/>
<line x1="266.15" y1="58.50" x2="281.15" y2="58.50" stroke="#e00000" stroke-width="1" stroke-opacity="0.68"/>
<rect x="281.15" y="64.90" width="15.00" height="4.70" fill="#ff0000" fill-opacity="0.33"/>
<path d="M281.50 64.50H296.50M281.50 69.50H296.50M281.50 64.00V70.00M296.50 64.00V70.00" fill="none" stroke="#ff0000" stroke-opacity="0.2" stroke-width="1"/>
<line x1="281.15" y1="67.50" x2="296.15" y2="67.50" stroke="#e00000" stroke-width="1" stroke-opacity="0.68"/>
<rect x="296.15" y="81.10" width="15.00" height="4.90" fill="#ff0000" fill-opacity="0.33"/>
<path d="M296.50 81.50H311.50M296.50 85.50H311.50M296.50 81.00V86.00M311.50 81.00V86.00" fill="none" stroke="#ff0000" stroke-opacity="0.2" stroke-width="1"/>
<line x1="296.15" y1="83.50" x2="311.15" y2="83.50" stroke="#e00000" stroke-width="1" stroke-opacity="0.68"/>
<rect x="311.15" y="103.80" width="15.00" height="4.20" fill="#ff0000" fill-opacity="0.33"/>
<path d="M311.50 103.50H326.50M311.50 107.50H326.50M311.50 103.00V108.00M326.50 103.00V108.00" fill="none" stroke="#ff0000" stroke-opacity="0.2" stroke-width="1"/>
<line x1="311.15" y1="106.50" x2="326.15" y2="106.50" stroke="#e00000" stroke-width="1" stroke-opacity="0.68"/>
<rect x="326.15" y="131.10" width="15.00" height="3.00" fill="#ff0000" fill-opacity="0.33"/>
<path d="M326.50 131.50H341.50M326.50 133.50H341.50M326.50 131.00V134.00M341.50 131.00V134.00" fill="none" stroke="#ff0000" stroke-opacity="0.2" stroke-width="1"/>
<line x1="326.15" y1="132.50" x2="341.15" y2="132.50" stroke="#e00000" stroke-width="1" stroke-opacity="0.68"/>
<rect x="341.15" y="157.30" width="15.00" height="2.20" fill="#ff0000" fill-opacity="0.33"/>
<path d="M341.50 157.50H356.50M341.50 159.50H356.50M341.50 157.00V160.00M356.50 157.00V160.00" fill="none" stroke="#ff0000" stroke-opacity="0.2" stroke-width="1"/>
<line x1="341.15" y1="158.50" x2="356.15" y2="158.50" stroke="#e00000" stroke-width="1" stroke-opacity="0.68"/>
<rect x="356.15" y="177.10" width="15.00" height="1.90" fill="#ff0000" fill-opacity="0.33"/>
<path d="M356.50 177.50H371.50M356.50 178.50H371.50M356.50 177.00V179.00M371.50 177.00V179.00" fill="none" stroke="#ff0000" stroke-opacity="0.2" stroke-width="1"/>
<line x1="356.15" y1="178.50" x2="371.15" y2="178.50" stroke="#e00000" stroke-width="1" stroke-opacity="0.68"/>
<rect x="371.15" y="190.80" width="15.35" height="1.20" fill="#ff0000" fill-opacity="0.33"/>
<path d="M371.50 190.50H386.50M371.50 191.50H386.50M371.50 190.00V192.00M386.50 190.00V192.00" fill="none" stroke="#ff0000" stroke-opacity="0.2" stroke-width="1"/>
<line x1="371.15" y1="191.50" x2="386.50" y2="191.50" stroke="#e00000" stroke-width="1" stroke-opacity="0.68"/>
<rect x="40.50" y="222.30" width="14.65" height="8.70" fill="#00ff00" fill-opacity="0.36"/>
<path d="M40.50 222.50H55.50M40.50 230.50H55.50M40.50 222.00V231.00M55.50 222.00V231.00" fill="none" stroke="#00ff00" stroke-opacity="0.2" stroke-width="1"/>
<line x1="40.50" y1="226.50" x2="55.15" y2="226.50" stroke="#00c000" stroke-width="1" stroke-opacity="0.55"/>
<rect x="55.15" y="223.40" width="15.00" height="10.60" fill="#00ff00" fill-opacity="0.36"/>
<path d="M55.50 223.50H70.50M55.50 233.50H70.50M55.50 223.00V234.00M70.50 223.00V234.00" fill="none" stroke="#00ff00" stroke-opacity="0.2" stroke-width="1"/>
<line x1="55.15" y1="227.50" x2="70.15" y2="227.50" stroke="#00c000" stroke-width="1" stroke-opacity="0.55"/>
<rect x="70.15" y="223.20" width="15.00" height="9.10" fill="#00ff00" fill-opacity="0.36"/>
<path d="M70.50 223.50H85.50M70.50 232.50H85.50M70.50 223.00V233.00M85.50 223.00V233.00" fill="none" stroke="#00ff00" stroke-opacity="0.2" stroke-width="1"/>
<line x1="70.15" y1="228.50" x2="85.15" y2="228.50" stroke="#00c000" stroke-width="1" stroke-opacity="0.55"/>
<rect x="85.15" y="223.90" width="16.00" height="7.40" fill="#00ff00" fill-opacity="0.36"/>
<path d="M85.50 223.50H101.50M85.50 231.50H101.50M85.50 223.00V232.00M101.50 223.00V232.00" fill="none" stroke="#00ff00" stroke-opacity="0.2" stroke-width="1"/>
<line x1="85.15" y1="227.50" x2="101.15" y2="227.50" stroke="#00c000" stroke-width="1" stroke-opacity="0.55"/>
<rect x="101.15" y="225.90" width="15.00" height="5.90" fill="#00ff00" fill-opacity="0.36"/>
<path d="M101.50 225.50H116.50M101.50 231.50H116.50M101.50 225.00V232.00M116.50 225.00V232.00" fill="none" stroke="#00ff00" stroke-opacity="0.2" stroke-width="1"/>
<line x1="101.15" y1="228.50" x2="116.15" y2="228.50" stroke="#00c000" stroke-width="1" stroke-opacity="0.55"/>
<rect x="116.15" y="225.10" width="15.00" height="7.00" fill="#00ff00" fill-opacity="0.36"/>
<path d="M116.50 225.50H131.50M116.50 231.50H131.50M116.50 225.00V232.00M131.50 225.00V232.00" fill="none" stroke="#00ff00" stroke-opacity="0.2" stroke-width="1"/>
<line x1="116.15" y1="228.50" x2="131.15" y2="228.50" stroke="#00c000" stroke-width="1" stroke-opacity="0.55"/>
<rect x="131.15" y="225.40" width="15.00" height="6.40" fill="#00ff00" fill-opacity="0.36"/>
<path d="M131.50 225.50H146.50M131.50 231.50H146.50M131.50 225.00V232.00M146.50 225.00V232.00" fill="none" stroke="#00ff00" stroke-opacity="0.2" stroke-width="1"/>
<line x1="131.15" y1="228.50" x2="146.15" y2="228.50" stroke="#00c000" stroke-width="1" stroke-opacity="0.55"/>
<rect x="146.15" y="226.00" width="15.00" height="6.30" fill="#00ff00" fill-opacity="0.36"/>
<path d="M146.50 226.50H161.50M146.50 232.50H161.50M146.50 226.00V233.00M161.50 226.00V233.00" fill="none" stroke="#00ff00" stroke-opacity="0.2" stroke-width="1"/>
<line x1="146.15" y1="228.50" x2="161.15" y2="228.50" stroke="#00c000" stroke-width="1" stroke-opacity="0.55"/>
<rect x="161.15" y="226.20" width="15.00" height="5.90" fill="#00ff00" fill-opacity="0.36"/>
<path d="M161.50 226.50H176.50M161.50 231.50H176.50M161.50 226.00V232.00M176.50 226.00V232.00" fill="none" stroke="#00ff00" stroke-opacity="0.2" stroke-width="1"/>
<line x1="161.15" y1="228.50" x2="176.15" y2="228.50" stroke="#00c000" stroke-width="1" stroke-opacity="0.55"/>
<rect x="176.15" y="225.90" width="15.00" height="6.30" fill="#00ff00" fill-opacity="0.36"/>
<path d="M176.50 225.50H191.50M176.50 231.50H191.50M176.50 225.00V232.00M191.50 225.00V232.00" fill="none" stroke="#00ff00" stroke-opacity="0.2" stroke-width="1"/>
<line x1="176.15" y1="228.50" x2="191.15" y2="228.50" stroke="#00c000" stroke-width="1" stroke-opacity="0.55"/>
<rect x="191.15" y="226.20" width="15.00" height="6.30" fill="#00ff00" fill-opacity="0.36"/>
<path d="M191.50 226.50H206.50M191.50 232.50H206.50M191.50 226.00V233.00M206.50 226.00V233.00" fill="none" stroke="#00ff00" stroke-opacity="0.2" stroke-width="1"/>
<line x1="191.15" y1="228.50" x2="206.15" y2="228.50" stroke="#00c000" stroke-width="1" stroke-opacity="0.55"/>
<rect x="206.15" y="226.20" width="15.00" height="6.10" fill="#00ff00" fill-opacity="0.36"/>
<path d="M206.50 226.50H221.50M206.50 232.50H221.50M206.50 226.00V233.00M221.50 226.00V233.00" fill="none" stroke="#00ff00" stroke-opacity="0.2" stroke-width="1"/>
<line x1="206.15" y1="228.50" x2="221.15" y2="228.50" stroke="#00c000" stroke-width="1" stroke-opacity="0.55"/>
<rect x="221.15" y="226.20" width="15.00" height="6.30" fill="#00ff00" fill-opacity="0.36"/>
<path d="M221.50 226.50H236.50M221.50 232.50H236.50M221.50 226.00V233.00M236.50 226.00V233.00" fill="none" stroke="#00ff00" stroke-opacity="0.2" stroke-width="1"/>
<line x1="221.15" y1="228.50" x2="236.15" y2="228.50" stroke="#00c000" stroke-width="1" stroke-opacity="0.55"/>
<rect x="236.15" y="225.80" width="15.00" height="6.00" fill="#00ff00" fill-opacity="0.36"/>
<path d="M236.50 225.50H251.50M236.50 231.50H251.50M236.50 225.00V232.00M251.50 225.00V232.00" fill="none" stroke="#00ff00" stroke-opacity="0.2" stroke-width="1"/>
<line x1="236.15" y1="228.50" x2="251.15" y2="228.50" stroke="#00c000" stroke-width="1" stroke-opacity="0.55"/>
<rect x="251.15" y="226.20" width="15.00" height="6.30" fill="#00ff00" fill-opacity="0.36"/>
<path d="M251.50 226.50H266.50M251.50 232.50H266.50M251.50 226.00V233.00M266.50 226.00V233.00" fill="none" stroke="#00ff00" stroke-opacity="0.2" stroke-width="1"/>
<line x1="251.15" y1="228.50" x2="266.15" y2="228.50" stroke="#00c000" stroke-width="1" stroke-opacity="0.55"/>
<rect x="266.15" y="225.60" width="15.00" height="6.90" fill="#00ff00" fill-opacity="0.36"/>
<path d="M266.50 225.50H281.50M266.50 232.50H281.50M266.50 225.00V233.00M281.50 225.00V233.00" fill="none" stroke="#00ff00" stroke-opacity="0.2" stroke-width="1"/>
<line x1="266.15" y1="228.50" x2="281.15" y2="228.50" stroke="#00c000" stroke-width="1" stroke-opacity="0.55"/>
<rect x="281.15" y="226.20" width="15.00" height="6.70" fill="#00ff00" fill-opacity="0.36"/>
<path d="M281.50 226.50H296.50M281.50 232.50H296.50M281.50 226.00V233.00M296.50 226.00V233.00" fill="none" stroke="#00ff00" stroke-opacity="0.2" stroke-width="1"/>
<line x1="281.15" y1="228.50" x2="296.15" y2="228.50" stroke="#00c000" stroke-width="1" stroke-opacity="0.55"/>
<rect x="296.15" y="225.40" width="15.00" height="6.80" fill="#00ff00" fill-opacity="0.36"/>
<path d="M296.50 225.50H311.50M296.50 231.50H311.50M296.50 225.00V232.00M311.50 225.00V232.00" fill="none" stroke="#00ff00" stroke-opacity="0.2" stroke-width="1"/>
<line x1="296.15" y1="228.50" x2="311.15" y2="228.50" stroke="#00c000" stroke-width="1" stroke-opacity="0.55"/>
<rect x="311.15" y="224.40" width="15.00" height="7.80" fill="#00ff00" fill-opacity="0.36"/>
<path d="M311.50 224.50H326.50M311.50 231.50H326.50M311.50 224.00V232.00M326.50 224.00V232.00" fill="none" stroke="#00ff00" stroke-opacity="0.2" stroke-width="1"/>
<line x1="311.15" y1="228.50" x2="326.15" y2="228.50" stroke="#00c000" stroke-width="1" stroke-opacity="0.55"/>
<rect x="326.15" y="224.40" width="15.00" height="8.10" fill="#00ff00" fill-opacity="0.36"/>
<path d="M326.50 224.50H341.50M326.50 232.50H341.50M326.50 224.00V233.00M341.50 224.00V233.00" fill="none" stroke="#00ff00" stroke-opacity="0.2" stroke-width="1"/>
<line x1="326.15" y1="228.50" x2="341.15" y2="228.50" stroke="#00c000" stroke-width="1" stroke-opacity="0.55"/>
<rect x="341.15" y="223.20" width="15.00" height="9.30" fill="#00ff00" fill-opacity="0.36"/>
<path d="M341.50 223.50H356.50M341.50 232.50H356.50M341.50 223.00V233.00M356.50 223.00V233.00" fill="none" stroke="#00ff00" stroke-opacity="0.2" stroke-width="1"/>
<line x1="341.15" y1="227.50" x2="356.15" y2="227.50" stroke="#00c000" stroke-width="1" stroke-opacity="0.55"/>
<rect x="356.15" y="223.20" width="15.00" height="10.50" fill="#00ff00" fill-opacity="0.36"/>
<path d="M356.50 223.50H371.50M356.50 233.50H371.50M356.50 223.00V234.00M371.50 223.00V234.00" fill="none" stroke="#00ff00" stroke-opacity="0.2" stroke-width="1"/>
<line x1="356.15" y1="227.50" x2="371.15" y2="227.50" stroke="#00c000" stroke-width="1" stroke-opacity="0.55"/>
<rect x="371.15" y="220.00" width="15.35" height="11.00" fill="#00ff00" fill-opacity="0.36"/>
<path d="M371.50 220.50H386.50M371.50 230.50H386.50M371.50 220.00V231.00M386.50 220.00V231.00" fill="none" stroke="#00ff00" stroke-opacity="0.2" stroke-width="1"/>
<line x1="371.15" y1="226.50" x2="386.50" y2="226.50" stroke="#00c000" stroke-width="1" stroke-opacity="0.55"/>
<rect x="40.50" y="223.60" width="14.65" height="12.10" fill="#ff0000" fill-opacity="0.33"/>
<path d="M40.50 223.50H55.50M40.50 235.50H55.50M40.50 223.00V236.00M55.50 223.00V236.00" fill="none" stroke="#ff0000" stroke-opacity="0.2" stroke-width="1"/>
<line x1="40.50" y1="228.50" x2="55.15" y2="228.50" stroke="#ff0000" stroke-width="1" stroke-opacity="0.4"/>
<rect x="55.15" y="223.40" width="15.00" height="11.30" fill="#ff0000" fill-opacity="0.33"/>
<path d="M55.50 223.50H70.50M55.50 234.50H70.50M55.50 223.00V235.00M70.50 223.00V235.00" fill="none" stroke="#ff0000" stroke-opacity="0.2" stroke-width="1"/>
<line x1="55.15" y1="228.50" x2="70.15" y2="228.50" stroke="#ff0000" stroke-width="1" stroke-opacity="0.4"/>
<rect x="70.15" y="224.20" width="15.00" height="10.10" fill="#ff0000" fill-opacity="0.33"/>
<path d="M70.50 224.50H85.50M70.50 234.50H85.50M70.50 224.00V235.00M85.50 224.00V235.00" fill="none" stroke="#ff0000" stroke-opacity="0.2" stroke-width="1"/>
<line x1="70.15" y1="228.50" x2="85.15" y2="228.50" stroke="#ff0000" stroke-width="1" stroke-opacity="0.4"/>
<rect x="85.15" y="222.20" width="16.00" height="10.30" fill="#ff0000" fill-opacity="0.33"/>
<path d="M85.50 222.50H101.50M85.50 232.50H101.50M85.50 222.00V233.00M101.50 222.00V233.00" fill="none" stroke="#ff0000" stroke-opacity="0.2" stroke-width="1"/>
<line x1="85.15" y1="228.50" x2="101.15" y2="228.50" stroke="#ff0000" stroke-width="1" stroke-opacity="0.4"/>
<rect x="101.15" y="225.90" width="15.00" height="8.50" fill="#ff0000" fill-opacity="0.33"/>
<path d="M101.50 225.50H116.50M101.50 234.50H116.50M101.50 225.00V235.00M116.50 225.00V235.00" fill="none" stroke="#ff0000" stroke-opacity="0.2" stroke-width="1"/>
<line x1="101.15" y1="228.50" x2="116.15" y2="228.50" stroke="#ff0000" stroke-width="1" stroke-opacity="0.4"/>
<rect x="116.15" y="225.10" width="15.00" height="7.20" fill="#ff0000" fill-opacity="0.33"/>
<path d="M116.50 225.50H131.50M116.50 232.50H131.50M116.50 225.00V233.00M131.50 225.00V233.00" fill="none" stroke="#ff0000" stroke-opacity="0.2" stroke-width="1"/>
<line x1="116.15" y1="228.50" x2="131.15" y2="228.50" stroke="#ff0000" stroke-width="1" stroke-opacity="0.4"/>
<rect x="131.15" y="225.40" width="15.00" height="8.10" fill="#ff0000" fill-opacity="0.33"/>
<path d="M131.50 225.50H146.50M131.50 233.50H146.50M131.50 225.00V234.00M146.50 225.00V234.00" fill="none" stroke="#ff0000" stroke-opacity="0.2" stroke-width="1"/>
<line x1="131.15" y1="228.50" x2="146.15" y2="228.50" stroke="#ff0000" stroke-width="1" stroke-opacity="0.4"/>
<rect x="146.15" y="226.00" width="15.00" height="6.30" fill="#ff0000" fill-opacity="0.33"/>
<path d="M146.50 226.50H161.50M146.50 232.50H161.50M146.50 226.00V233.00M161.50 226.00V233.00" fill="none" stroke="#ff0000" stroke-opacity="0.2" stroke-width="1"/>
<line x1="146.15" y1="228.50" x2="161.15" y2="228.50" stroke="#ff0000" stroke-width="1" stroke-opacity="0.4"/>
<rect x="161.15" y="224.80" width="15.00" height="7.30" fill="#ff0000" fill-opacity="0.33"/>
<path d="M161.50 224.50H176.50M161.50 231.50H176.50M161.50 224.00V232.00M176.50 224.00V232.00" fill="none" stroke="#ff0000" stroke-opacity="0.2" stroke-width="1"/>
<line x1="161.15" y1="228.50" x2="176.15" y2="228.50" stroke="#ff0000" stroke-width="1" stroke-opacity="0.4"/>
<rect x="176.15" y="225.90" width="15.00" height="6.30" fill="#ff0000" fill-opacity="0.33"/>
<path d="M176.50 225.50H191.50M176.50 231.50H191.50M176.50 225.00V232.00M191.50 225.00V232.00" fill="none" stroke="#ff0000" stroke-opacity="0.2" stroke-width="1"/>
<line x1="176.15" y1="228.50" x2="191.15" y2="228.50" stroke="#ff0000" stroke-width="1" stroke-opacity="0.4"/>
<rect x="191.15" y="226.20" width="15.00" height="8.20" fill="#ff0000" fill-opacity="0.33"/>
<path d="M191.50 226.50H206.50M191.50 234.50H206.50M191.50 226.00V235.00M206.50 226.00V235.00" fill="none" stroke="#ff0000" stroke-opacity="0.2" stroke-width="1"/>
<line x1="191.15" y1="228.50" x2="206.15" y2="228.50" stroke="#ff0000" stroke-width="1" stroke-opacity="0.4"/>
<rect x="206.15" y="226.20" width="15.00" height="7.40" fill="#ff0000" fill-opacity="0.33"/>
<path d="M206.50 226.50H221.50M206.50 233.50H221.50M206.50 226.00V234.00M221.50 226.00V234.00" fill="none" stroke="#ff0000" stroke-opacity="0.2" stroke-width="1"/>
<line x1="206.15" y1="228.50" x2="221.15" y2="228.50" stroke="#ff0000" stroke-width="1" stroke-opacity="0.4"/>
<rect x="221.15" y="224.80" width="15.00" height="6.70" fill="#ff0000" fill-opacity="0.33"/>
<path d="M221.50 224.50H236.50M221.50 231.50H236.50M221.50 224.00V232.00M236.50 224.00V232.00" fill="none" stroke="#ff0000" stroke-opacity="0.2" stroke-width="1"/>
<line x1="221.15" y1="228.50" x2="236.15" y2="228.50" stroke="#ff0000" stroke-width="1" stroke-opacity="0.4"/>
<rect x="236.15" y="224.80" width="15.00" height="7.00" fill="#ff0000" fill-opacity="0.33"/>
<path d="M236.50 224.50H251.50M236.50 231.50H251.50M236.50 224.00V232.00M251.50 224.00V232.00" fill="none" stroke="#ff0000" stroke-opacity="0.2" stroke-width="1"/>
<line x1="236.15" y1="228.50" x2="251.15" y2="228.50" stroke="#ff0000" stroke-width="1" stroke-opacity="0.4"/>
<rect x="251.15" y="226.20" width="15.00" height="6.30" fill="#ff0000" fill-opacity="0.33"/>
<path d="M251.50 226.50H266.50M251.50 232.50H266.50M251.50 226.00V233.00M266.50 226.00V233.00" fill="none" stroke="#ff0000" stroke-opacity="0.2" stroke-width="1"/>
<line x1="251.15" y1="228.50" x2="266.15" y2="228.50" stroke="#ff0000" stroke-width="1" stroke-opacity="0.4"/>
<rect x="266.15" y="225.60" width="15.00" height="7.60" fill="#ff0000" fill-opacity="0.33"/>
<path d="M266.50 225.50H281.50M266.50 232.50H281.50M266.50 225.00V233.00M281.50 225.00V233.00" fill="none" stroke="#ff0000" stroke-opacity="0.2" stroke-width="1"/>
<line x1="266.15" y1="228.50" x2="281.15" y2="228.50" stroke="#ff0000" stroke-width="1" stroke-opacity="0.4"/>
<rect x="281.15" y="226.20" width="15.00" height="6.70" fill="#ff0000" fill-opacity="0.33"/>
<path d="M281.50 226.50H296.50M281.50 232.50H296.50M281.50 226.00V233.00M296.50 226.00V233.00" fill="none" stroke="#ff0000" stroke-opacity="0.2" stroke-width="1"/>
<line x1="281.15" y1="228.50" x2="296.15" y2="228.50" stroke="#ff0000" stroke-width="1" stroke-opacity="0.4"/>
<rect x="296.15" y="225.40" width="15.00" height="8.30" fill="#ff0000" fill-opacity="0.33"/>
<path d="M296.50 225.50H311.50M296.50 233.50H311.50M296.50 225.00V234.00M311.50 225.00V234.00" fill="none" stroke="#ff0000" stroke-opacity="0.2" stroke-width="1"/>
<line x1="296.15" y1="228.50" x2="311.15" y2="228.50" stroke="#ff0000" stroke-width="1" stroke-opacity="0.4"/>
<rect x="311.15" y="225.10" width="15.00" height="7.10" fill="#ff0000" fill-opacity="0.33"/>
<path d="M311.50 225.50H326.50M311.50 231.50H326.50M311.50 225.00V232.00M326.50 225.00V232.00" fill="none" stroke="#ff0000" stroke-opacity="0.2" stroke-width="1"/>
<line x1="311.15" y1="228.50" x2="326.15" y2="228.50" stroke="#ff0000" stroke-width="1" stroke-opacity="0.4"/>
<rect x="326.15" y="224.40" width="15.00" height="8.10" fill="#ff0000" fill-opacity="0.33"/>
<path d="M326.50 224.50H341.50M326.50 232.50H341.50M326.50 224.00V233.00M341.50 224.00V233.00" fill="none" stroke="#ff0000" stroke-opacity="0.2" stroke-width="1"/>
<line x1="326.15" y1="228.50" x2="341.15" y2="228.50" stroke="#ff0000" stroke-width="1" stroke-opacity="0.4"/>
<rect x="341.15" y="224.40" width="15.00" height="13.00" fill="#ff0000" fill-opacity="0.33"/>
<path d="M341.50 224.50H356.50M341.50 237.50H356.50M341.50 224.00V238.00M356.50 224.00V238.00" fill="none" stroke="#ff0000" stroke-opacity="0.2" stroke-width="1"/>
<line x1="341.15" y1="228.50" x2="356.15" y2="228.50" stroke="#ff0000" stroke-width="1" stroke-opacity="0.4"/>
<rect x="356.15" y="223.20" width="15.00" height="13.40" fill="#ff0000" fill-opacity="0.33"/>
<path d="M356.50 223.50H371.50M356.50 236.50H371.50M356.50 223.00V237.00M371.50 223.00V237.00" fill="none" stroke="#ff0000" stroke-opacity="0.2" stroke-width="1"/>
<line x1="356.15" y1="228.50" x2="371.15" y2="228.50" stroke="#ff0000" stroke-width="1" stroke-opacity="0.4"/>
<rect x="371.15" y="223.20" width="15.35" height="17.40" fill="#ff0000" fill-opacity="0.33"/>
<path d="M371.50 223.50H386.50M371.50 240.50H386.50M371.50 223.00V241.00M386.50 223.00V241.00" fill="none" stroke="#ff0000" stroke-opacity="0.2" stroke-width="1"/>
<line x1="371.15" y1="228.50" x2="386.50" y2="228.50" stroke="#ff0000" stroke-width="1" stroke-opacity="0.4"/>
<rect x="40.50" y="255.10" width="14.65" height="28.30" fill="#0000ff" fill-opacity="0.3"/>
<path d="M40.50 255.50H55.50M40.50 283.50H55.50M40.50 255.00V284.00M55.50 255.00V284.00" fill="none" stroke="#0000ff" stroke-opacity="0.2" stroke-width="1"/>
<line x1="40.50" y1="273.50" x2="55.15" y2="273.50" stroke="#0000ff" stroke-width="1" stroke-opacity="0.6"/>
<rect x="55.15" y="258.30" width="15.00" height="25.40" fill="#0000ff" fill-opacity="0.3"/>
<path d="M55.50 258.50H70.50M55.50 283.50H70.50M55.50 258.00V284.00M70.50 258.00V284.00" fill="none" stroke="#0000ff" stroke-opacity="0.2" stroke-width="1"/>
<line x1="55.15" y1="273.50" x2="70.15" y2="273.50" stroke="#0000ff" stroke-width="1" stroke-opacity="0.6"/>
<rect x="70.15" y="256.60" width="15.00" height="26.10" fill="#0000ff" fill-opacity="0.3"/>
<path d="M70.50 256.50H85.50M70.50 282.50H85.50M70.50 256.00V283.00M85.50 256.00V283.00" fill="none" stroke="#0000ff" stroke-opacity="0.2" stroke-width="1"/>
<line x1="70.15" y1="271.50" x2="85.15" y2="271.50" stroke="#0000ff" stroke-width="1" stroke-opacity="0.6"/>
<rect x="85.15" y="251.20" width="16.00" height="31.10" fill="#0000ff" fill-opacity="0.3"/>
<path d="M85.50 251.50H101.50M85.50 282.50H101.50M85.50 251.00V283.00M101.50 251.00V283.00" fill="none" stroke="#0000ff" stroke-opacity="0.2" stroke-width="1"/>
<line x1="85.15" y1="271.50" x2="101.15" y2="271.50" stroke="#0000ff" stroke-width="1" stroke-opacity="0.6"/>
<rect x="101.15" y="257.30" width="15.00" height="24.90" fill="#0000ff" fill-opacity="0.3"/>
<path d="M101.50 257.50H116.50M101.50 281.50H116.50M101.50 257.00V282.00M116.50 257.00V282.00" fill="none" stroke="#0000ff" stroke-opacity="0.2" stroke-width="1"/>
<line x1="101.15" y1="270.50" x2="116.15" y2="270.50" stroke="#0000ff" stroke-width="1" stroke-opacity="0.6"/>
<rect x="116.15" y="258.30" width="15.00" height="23.20" fill="#0000ff" fill-opacity="0.3"/>
<path d="M116.50 258.50H131.50M116.50 281.50H131.50M116.50 258.00V282.00M131.50 258.00V282.00" fill="none" stroke="#0000ff" stroke-opacity="0.2" stroke-width="1"/>
<line x1="116.15" y1="270.50" x2="131.15" y2="270.50" stroke="#0000ff" stroke-width="1" stroke-opacity="0.6"/>
<rect x="131.15" y="259.10" width="15.00" height="22.40" fill="#0000ff" fill-opacity="0.3"/>
<path d="M131.50 259.50H146.50M131.50 281.50H146.50M131.50 259.00V282.00M146.50 259.00V282.00" fill="none" stroke="#0000ff" stroke-opacity="0.2" stroke-width="1"/>
<line x1="131.15" y1="270.50" x2="146.15" y2="270.50" stroke="#0000ff" stroke-width="1" stroke-opacity="0.6"/>
<rect x="146.15" y="260.10" width="15.00" height="21.20" fill="#0000ff" fill-opacity="0.3"/>
<path d="M146.50 260.50H161.50M146.50 281.50H161.50M146.50 260.00V282.00M161.50 260.00V282.00" fill="none" stroke="#0000ff" stroke-opacity="0.2" stroke-width="1"/>
<line x1="146.15" y1="269.50" x2="161.15" y2="269.50" stroke="#0000ff" stroke-width="1" stroke-opacity="0.6"/>
<rect x="161.15" y="259.10" width="15.00" height="22.10" fill="#0000ff" fill-opacity="0.3"/>
<path d="M161.50 259.50H176.50M161.50 280.50H176.50M161.50 259.00V281.00M176.50 259.00V281.00" fill="none" stroke="#0000ff" stroke-opacity="0.2" stroke-width="1"/>
<line x1="161.15" y1="269.50" x2="176.15" y2="269.50" stroke="#0000ff" stroke-width="1" stroke-opacity="0.6"/>
<rect x="176.15" y="260.80" width="15.00" height="20.10" fill="#0000ff" fill-opacity="0.3"/>
<path d="M176.50 260.50H191.50M176.50 280.50H191.50M176.50 260.00V281.00M191.50 260.00V281.00" fill="none" stroke="#0000ff" stroke-opacity="0.2" stroke-width="1"/>
<line x1="176.15" y1="268.50" x2="191.15" y2="268.50" stroke="#0000ff" stroke-width="1" stroke-opacity="0.6"/>
<rect x="191.15" y="261.00" width="15.00" height="19.90" fill="#0000ff" fill-opacity="0.3"/>
<path d="M191.50 261.50H206.50M191.50 280.50H206.50M191.50 261.00V281.00M206.50 261.00V281.00" fill="none" stroke="#0000ff" stroke-opacity="0.2" stroke-width="1"/>
<line x1="191.15" y1="268.50" x2="206.15" y2="268.50" stroke="#0000ff" stroke-width="1" stroke-opacity="0.6"/>
<rect x="206.15" y="260.60" width="15.00" height="20.40" fill="#0000ff" fill-opacity="0.3"/>
<path d="M206.50 260.50H221.50M206.50 280.50H221.50M206.50 260.00V281.00M221.50 260.00V281.00" fill="none" stroke="#0000ff" stroke-opacity="0.2" stroke-width="1"/>
<line x1="206.15" y1="268.50" x2="221.15" y2="268.50" stroke="#0000ff" stroke-width="1" stroke-opacity="0.6"/>
<rect x="221.15" y="260.10" width="15.00" height="21.10" fill="#0000ff" fill-opacity="0.3"/>
<path d="M221.50 260.50H236.50M221.50 280.50H236.50M221.50 260.00V281.00M236.50 260.00V281.00" fill="none" stroke="#0000ff" stroke-opacity="0.2" stroke-width="1"/>
<line x1="221.15" y1="268.50" x2="236.15" y2="268.50" stroke="#0000ff" stroke-width="1" stroke-opacity="0.6"/>
<rect x="236.15" y="261.00" width="15.00" height="20.20" fill="#0000ff" fill-opacity="0.3"/>
<path d="M236.50 261.50H251.50M236.50 280.50H251.50M236.50 261.00V281.00M251.50 261.00V281.00" fill="none" stroke="#0000ff" stroke-opacity="0.2" stroke-width="1"/>
<line x1="236.15" y1="268.50" x2="251.15" y2="268.50" stroke="#0000ff" stroke-width="1" stroke-opacity="0.6"/>
<rect x="251.15" y="260.10" width="15.00" height="21.10" fill="#0000ff" fill-opacity="0.3"/>
<path d="M251.50 260.50H266.50M251.50 280.50H266.50M251.50 260.00V281.00M266.50 260.00V281.00" fill="none" stroke="#0000ff" stroke-opacity="0.2" stroke-width="1"/>
<line x1="251.15" y1="268.50" x2="266.15" y2="268.50" stroke="#0000ff" stroke-width="1" stroke-opacity="0.6"/>
<rect x="266.15" y="261.00" width="15.00" height="20.30" fill="#0000ff" fill-opacity="0.3"/>
<path d="M266.50 261.50H281.50M266.50 281.50H281.50M266.50 261.00V282.00M281.50 261.00V282.00" fill="none" stroke="#0000ff" stroke-opacity="0.2" stroke-width="1"/>
<line x1="266.15" y1="269.50" x2="281.15" y2="269.50" stroke="#0000ff" stroke-width="1" stroke-opacity="0.6"/>
<rect x="281.15" y="258.30" width="15.00" height="23.20" fill="#0000ff" fill-opacity="0.3"/>
<path d="M281.50 258.50H296.50M281.50 281.50H296.50M281.50 258.00V282.00M296.50 258.00V282.00" fill="none" stroke="#0000ff" stroke-opacity="0.2" stroke-width="1"/>
<line x1="281.15" y1="269.50" x2="296.15" y2="269.50" stroke="#0000ff" stroke-width="1" stroke-opacity="0.6"/>
<rect x="296.15" y="253.50" width="15.00" height="27.70" fill="#0000ff" fill-opacity="0.3"/>
<path d="M296.50 253.50H311.50M296.50 280.50H311.50M296.50 253.00V281.00M311.50 253.00V281.00" fill="none" stroke="#0000ff" stroke-opacity="0.2" stroke-width="1"/>
<line x1="296.15" y1="269.50" x2="311.15" y2="269.50" stroke="#0000ff" stroke-width="1" stroke-opacity="0.6"/>
<rect x="311.15" y="257.60" width="15.00" height="23.90" fill="#0000ff" fill-opacity="0.3"/>
<path d="M311.50 257.50H326.50M311.50 281.50H326.50M311.50 257.00V282.00M326.50 257.00V282.00" fill="none" stroke="#0000ff" stroke-opacity="0.2" stroke-width="1"/>
<line x1="311.15" y1="270.50" x2="326.15" y2="270.50" stroke="#0000ff" stroke-width="1" stroke-opacity="0.6"/>
<rect x="326.15" y="256.40" width="15.00" height="25.20" fill="#0000ff" fill-opacity="0.3"/>
<path d="M326.50 256.50H341.50M326.50 281.50H341.50M326.50 256.00V282.00M341.50 256.00V282.00" fill="none" stroke="#0000ff" stroke-opacity="0.2" stroke-width="1"/>
<line x1="326.15" y1="270.50" x2="341.15" y2="270.50" stroke="#0000ff" stroke-width="1" stroke-opacity="0.6"/>
<rect x="341.15" y="255.10" width="15.00" height="26.10" fill="#0000ff" fill-opacity="0.3"/>
<path d="M341.50 255.50H356.50M341.50 280.50H356.50M341.50 255.00V281.00M356.50 255.00V281.00" fill="none" stroke="#0000ff" stroke-opacity="0.2" stroke-width="1"/>
<line x1="341.15" y1="270.50" x2="356.15" y2="270.50" stroke="#0000ff" stroke-width="1" stroke-opacity="0.6"/>
<rect x="356.15" y="256.40" width="15.00" height="25.20" fill="#0000ff" fill-opacity="0.3"/>
<path d="M356.50 256.50H371.50M356.50 281.50H371.50M356.50 256.00V282.00M371.50 256.00V282.00" fill="none" stroke="#0000ff" stroke-opacity="0.2" stroke-width="1"/>
<line x1="356.15" y1="271.50" x2="371.15" y2="271.50" stroke="#0000ff" stroke-width="1" stroke-opacity="0.6"/>
<rect x="371.15" y="263.50" width="15.35" height="19.20" fill="#0000ff" fill-opacity="0.3"/>
<path d="M371.50 263.50H386.50M371.50 282.50H386.50M371.50 263.00V283.00M386.50 263.00V283.00" fill="none" stroke="#0000ff" stroke-opacity="0.2" stroke-width="1"/>
<line x1="371.15" y1="271.50" x2="386.50" y2="271.50" stroke="#0000ff" stroke-width="1" stroke-opacity="0.6"/>
<rect x="40.50" y="259.80" width="14.65" height="7.40" fill="#ff0000" fill-opacity="0.33"/>
<path d="M40.50 259.50H55.50M40.50 266.50H55.50M40.50 259.00V267.00M55.50 259.00V267.00" fill="none" stroke="#ff0000" stroke-opacity="0.2" stroke-width="1"/>
<line x1="40.50" y1="263.50" x2="55.15" y2="263.50" stroke="#ff0030" stroke-width="1" stroke-opacity="0.55"/>
<rect x="55.15" y="260.20" width="15.00" height="6.50" fill="#ff0000" fill-opacity="0.33"/>
<path d="M55.50 260.50H70.50M55.50 266.50H70.50M55.50 260.00V267.00M70.50 260.00V267.00" fill="none" stroke="#ff0000" stroke-opacity="0.2" stroke-width="1"/>
<line x1="55.15" y1="263.50" x2="70.15" y2="263.50" stroke="#ff0030" stroke-width="1" stroke-opacity="0.55"/>
<rect x="70.15" y="260.20" width="15.00" height="6.20" fill="#ff0000" fill-opacity="0.33"/>
<path d="M70.50 260.50H85.50M70.50 266.50H85.50M70.50 260.00V267.00M85.50 260.00V267.00" fill="none" stroke="#ff0000" stroke-opacity="0.2" stroke-width="1"/>
<line x1="70.15" y1="263.50" x2="85.15" y2="263.50" stroke="#ff0030" stroke-width="1" stroke-opacity="0.55"/>
<rect x="85.15" y="259.10" width="16.00" height="6.30" fill="#ff0000" fill-opacity="0.33"/>
<path d="M85.50 259.50H101.50M85.50 265.50H101.50M85.50 259.00V266.00M101.50 259.00V266.00" fill="none" stroke="#ff0000" stroke-opacity="0.2" stroke-width="1"/>
<line x1="85.15" y1="263.50" x2="101.15" y2="263.50" stroke="#ff0030" stroke-width="1" stroke-opacity="0.55"/>
<rect x="101.15" y="260.10" width="15.00" height="6.60" fill="#ff0000" fill-opacity="0.33"/>
<path d="M101.50 260.50H116.50M101.50 266.50H116.50M101.50 260.00V267.00M116.50 260.00V267.00" fill="none" stroke="#ff0000" stroke-opacity="0.2" stroke-width="1"/>
<line x1="101.15" y1="263.50" x2="116.15" y2="263.50" stroke="#ff0030" stroke-width="1" stroke-opacity="0.55"/>
<rect x="116.15" y="261.00" width="15.00" height="4.70" fill="#ff0000" fill-opacity="0.33"/>
<path d="M116.50 261.50H131.50M116.50 265.50H131.50M116.50 261.00V266.00M131.50 261.00V266.00" fill="none" stroke="#ff0000" stroke-opacity="0.2" stroke-width="1"/>
<line x1="116.15" y1="263.50" x2="131.15" y2="263.50" stroke="#ff0030" stroke-width="1" stroke-opacity="0.55"/>
<rect x="131.15" y="260.80" width="15.00" height="4.90" fill="#ff0000" fill-opacity="0.33"/>
<path d="M131.50 260.50H146.50M131.50 265.50H146.50M131.50 260.00V266.00M146.50 260.00V266.00" fill="none" stroke="#ff0000" stroke-opacity="0.2" stroke-width="1"/>
<line x1="131.15" y1="263.50" x2="146.15" y2="263.50" stroke="#ff0030" stroke-width="1" stroke-opacity="0.55"/>
<rect x="146.15" y="261.30" width="15.00" height="4.00" fill="#ff0000" fill-opacity="0.33"/>
<path d="M146.50 261.50H161.50M146.50 265.50H161.50M146.50 261.00V266.00M161.50 261.00V266.00" fill="none" stroke="#ff0000" stroke-opacity="0.2" stroke-width="1"/>
<line x1="146.15" y1="263.50" x2="161.15" y2="263.50" stroke="#ff0030" stroke-width="1" stroke-opacity="0.55"/>
<rect x="161.15" y="261.00" width="15.00" height="4.40" fill="#ff0000" fill-opacity="0.33"/>
<path d="M161.50 261.50H176.50M161.50 265.50H176.50M161.50 261.00V266.00M176.50 261.00V266.00" fill="none" stroke="#ff0000" stroke-opacity="0.2" stroke-width="1"/>
<line x1="161.15" y1="263.50" x2="176.15" y2="263.50" stroke="#ff0030" stroke-width="1" stroke-opacity="0.55"/>
<rect x="176.15" y="261.00" width="15.00" height="4.40" fill="#ff0000" fill-opacity="0.33"/>
<path d="M176.50 261.50H191.50M176.50 265.50H191.50M176.50 261.00V266.00M191.50 261.00V266.00" fill="none" stroke="#ff0000" stroke-opacity="0.2" stroke-width="1"/>
<line x1="176.15" y1="263.50" x2="191.15" y2="263.50" stroke="#ff0030" stroke-width="1" stroke-opacity="0.55"/>
<rect x="191.15" y="261.00" width="15.00" height="4.40" fill="#ff0000" fill-opacity="0.33"/>
<path d="M191.50 261.50H206.50M191.50 265.50H206.50M191.50 261.00V266.00M206.50 261.00V266.00" fill="none" stroke="#ff0000" stroke-opacity="0.2" stroke-width="1"/>
<line x1="191.15" y1="263.50" x2="206.15" y2="263.50" stroke="#ff0030" stroke-width="1" stroke-opacity="0.55"/>
<rect x="206.15" y="261.00" width="15.00" height="4.40" fill="#ff0000" fill-opacity="0.33"/>
<path d="M206.50 261.50H221.50M206.50 265.50H221.50M206.50 261.00V266.00M221.50 261.00V266.00" fill="none" stroke="#ff0000" stroke-opacity="0.2" stroke-width="1"/>
<line x1="206.15" y1="263.50" x2="221.15" y2="263.50" stroke="#ff0030" stroke-width="1" stroke-opacity="0.55"/>
<rect x="221.15" y="261.00" width="15.00" height="4.30" fill="#ff0000" fill-opacity="0.33"/>
<path d="M221.50 261.50H236.50M221.50 265.50H236.50M221.50 261.00V266.00M236.50 261.00V266.00" fill="none" stroke="#ff0000" stroke-opacity="0.2" stroke-width="1"/>
<line x1="221.15" y1="263.50" x2="236.15" y2="263.50" stroke="#ff0030" stroke-width="1" stroke-opacity="0.55"/>
<rect x="236.15" y="261.00" width="15.00" height="4.30" fill="#ff0000" fill-opacity="0.33"/>
<path d="M236.50 261.50H251.50M236.50 265.50H251.50M236.50 261.00V266.00M251.50 261.00V266.00" fill="none" stroke="#ff0000" stroke-opacity="0.2" stroke-width="1"/>
<line x1="236.15" y1="263.50" x2="251.15" y2="263.50" stroke="#ff0030" stroke-width="1" stroke-opacity="0.55"/>
<rect x="251.15" y="261.00" width="15.00" height="4.40" fill="#ff0000" fill-opacity="0.33"/>
<path d="M251.50 261.50H266.50M251.50 265.50H266.50M251.50 261.00V266.00M266.50 261.00V266.00" fill="none" stroke="#ff0000" stroke-opacity="0.2" stroke-width="1"/>
<line x1="251.15" y1="263.50" x2="266.15" y2="263.50" stroke="#ff0030" stroke-width="1" stroke-opacity="0.55"/>
<rect x="266.15" y="261.00" width="15.00" height="4.50" fill="#ff0000" fill-opacity="0.33"/>
<path d="M266.50 261.50H281.50M266.50 265.50H281.50M266.50 261.00V266.00M281.50 261.00V266.00" fill="none" stroke="#ff0000" stroke-opacity="0.2" stroke-width="1"/>
<line x1="266.15" y1="263.50" x2="281.15" y2="263.50" stroke="#ff0030" stroke-width="1" stroke-opacity="0.55"/>
<rect x="281.15" y="261.00" width="15.00" height="4.70" fill="#ff0000" fill-opacity="0.33"/>
<path d="M281.50 261.50H296.50M281.50 265.50H296.50M281.50 261.00V266.00M296.50 261.00V266.00" fill="none" stroke="#ff0000" stroke-opacity="0.2" stroke-width="1"/>
<line x1="281.15" y1="263.50" x2="296.15" y2="263.50" stroke="#ff0030" stroke-width="1" stroke-opacity="0.55"/>
<rect x="296.15" y="261.00" width="15.00" height="4.70" fill="#ff0000" fill-opacity="0.33"/>
<path d="M296.50 261.50H311.50M296.50 265.50H311.50M296.50 261.00V266.00M311.50 261.00V266.00" fill="none" stroke="#ff0000" stroke-opacity="0.2" stroke-width="1"/>
<line x1="296.15" y1="263.50" x2="311.15" y2="263.50" stroke="#ff0030" stroke-width="1" stroke-opacity="0.55"/>
<rect x="311.15" y="260.80" width="15.00" height="4.90" fill="#ff0000" fill-opacity="0.33"/>
<path d="M311.50 260.50H326.50M311.50 265.50H326.50M311.50 260.00V266.00M326.50 260.00V266.00" fill="none" stroke="#ff0000" stroke-opacity="0.2" stroke-width="1"/>
<line x1="311.15" y1="263.50" x2="326.15" y2="263.50" stroke="#ff0030" stroke-width="1" stroke-opacity="0.55"/>
<rect x="326.15" y="260.50" width="15.00" height="5.50" fill="#ff0000" fill-opacity="0.33"/>
<path d="M326.50 260.50H341.50M326.50 265.50H341.50M326.50 260.00V266.00M341.50 260.00V266.00" fill="none" stroke="#ff0000" stroke-opacity="0.2" stroke-width="1"/>
<line x1="326.15" y1="263.50" x2="341.15" y2="263.50" stroke="#ff0030" stroke-width="1" stroke-opacity="0.55"/>
<rect x="341.15" y="260.10" width="15.00" height="8.50" fill="#ff0000" fill-opacity="0.33"/>
<path d="M341.50 260.50H356.50M341.50 268.50H356.50M341.50 260.00V269.00M356.50 260.00V269.00" fill="none" stroke="#ff0000" stroke-opacity="0.2" stroke-width="1"/>
<line x1="341.15" y1="263.50" x2="356.15" y2="263.50" stroke="#ff0030" stroke-width="1" stroke-opacity="0.55"/>
<rect x="356.15" y="259.80" width="15.00" height="8.10" fill="#ff0000" fill-opacity="0.33"/>
<path d="M356.50 259.50H371.50M356.50 267.50H371.50M356.50 259.00V268.00M371.50 259.00V268.00" fill="none" stroke="#ff0000" stroke-opacity="0.2" stroke-width="1"/>
<line x1="356.15" y1="263.50" x2="371.15" y2="263.50" stroke="#ff0030" stroke-width="1" stroke-opacity="0.55"/>
<rect x="371.15" y="259.10" width="15.35" height="11.30" fill="#ff0000" fill-opacity="0.33"/>
<path d="M371.50 259.50H386.50M371.50 270.50H386.50M371.50 259.00V271.00M386.50 259.00V271.00" fill="none" stroke="#ff0000" stroke-opacity="0.2" stroke-width="1"/>
<line x1="371.15" y1="263.50" x2="386.50" y2="263.50" stroke="#ff0030" stroke-width="1" stroke-opacity="0.55"/>
<rect x="40.5" y="17.5" width="346.0" height="279.0" fill="none" stroke="#000" stroke-opacity="0.34" stroke-width="1"/>
<line x1="41.0" y1="206.5" x2="386.0" y2="206.5" stroke="#000" stroke-opacity="0.58" stroke-width="1"/>
<line x1="41.0" y1="251.5" x2="386.0" y2="251.5" stroke="#000" stroke-opacity="0.58" stroke-width="1"/>
<text x="35.40" y="210.20" text-anchor="end" font-size="10.3" >0</text>
<text x="35.40" y="172.75" text-anchor="end" font-size="10.3" >400</text>
<text x="35.40" y="134.95" text-anchor="end" font-size="10.3" >800</text>
<text x="35.40" y="97.15" text-anchor="end" font-size="10.3" >1200</text>
<text x="35.40" y="59.35" text-anchor="end" font-size="10.3" >1600</text>
<text x="35.40" y="21.55" text-anchor="end" font-size="10.3" >2000</text>
<text x="35.40" y="221.00" text-anchor="end" font-size="10.3" >1.05</text>
<text x="35.40" y="232.75" text-anchor="end" font-size="10.3" >1</text>
<text x="35.40" y="244.00" text-anchor="end" font-size="10.3" >0.95</text>
<text x="35.40" y="267.45" text-anchor="end" font-size="10.3" >1</text>
<text x="35.40" y="279.90" text-anchor="end" font-size="10.3" >0.9</text>
<text x="35.40" y="293.10" text-anchor="end" font-size="10.3" >0.8</text>
<text x="63.52" y="312.80" text-anchor="middle" font-size="10.3" >-4</text>
<text x="101.14" y="312.80" text-anchor="middle" font-size="10.3" >-3</text>
<text x="138.76" y="312.80" text-anchor="middle" font-size="10.3" >-2</text>
<text x="176.38" y="312.80" text-anchor="middle" font-size="10.3" >-1</text>
<text x="215.30" y="312.80" text-anchor="middle" font-size="10.3" >0</text>
<text x="252.92" y="312.80" text-anchor="middle" font-size="10.3" >1</text>
<text x="290.54" y="312.80" text-anchor="middle" font-size="10.3" >2</text>
<text x="328.16" y="312.80" text-anchor="middle" font-size="10.3" >3</text>
<text x="365.78" y="312.80" text-anchor="middle" font-size="10.3" >4</text>
<text x="226.00" y="143.10" text-anchor="end" font-size="10.3" >DYNNLO</text>
<line x1="231.9" y1="139.10" x2="260.9" y2="139.10" stroke="#00ff00" stroke-width="1.2" stroke-opacity="0.42"/>
<text x="226.00" y="159.10" text-anchor="end" font-size="10.3" >Wj-MiNLO</text>
<line x1="231.9" y1="155.10" x2="260.9" y2="155.10" stroke="#0000ff" stroke-width="1.2" stroke-opacity="0.42"/>
<text x="226.00" y="175.10" text-anchor="end" font-size="10.3" >NNLOPS</text>
<line x1="231.9" y1="171.10" x2="260.9" y2="171.10" stroke="#ff0000" stroke-width="1.2" stroke-opacity="0.42"/>
<text x="377.30" y="38.00" text-anchor="end" font-size="10.3" font-weight="bold" stroke="#fff" stroke-width="0.15">LHC 7 TeV</text>
<text x="209.9" y="331.8" font-size="10.3">&#951;<tspan font-size="8.4" dy="2.0" dx="0" letter-spacing="-1.0" fill="#333">ll</tspan></text>
<text transform="translate(9.4,136.5) rotate(-90)" font-size="10.3">d&#963;/d&#951;<tspan font-size="8.4" dy="2" dx="0" letter-spacing="-1.0" fill="#333">ll</tspan><tspan dy="-2"> [pb]</tspan></text>
</svg>
</body></html>
